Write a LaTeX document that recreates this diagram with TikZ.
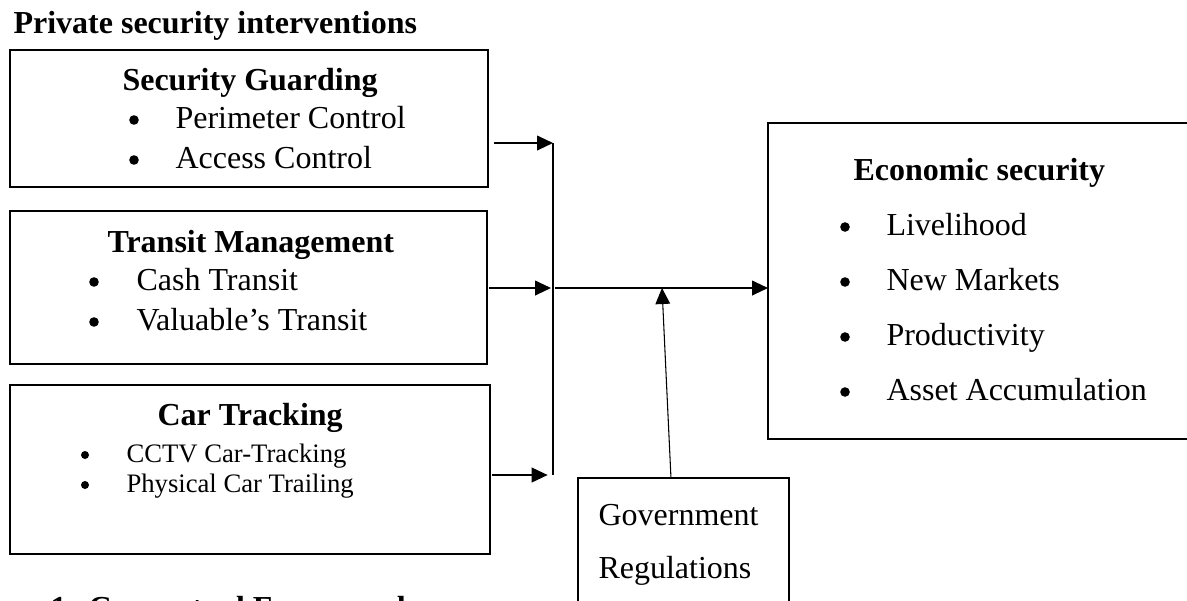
\documentclass[tikz,border=0pt,12pt]{standalone}
\usepackage{fontspec}
\setmainfont{Liberation Serif}
\usetikzlibrary{positioning,fit,calc,arrows.meta}

\begin{document}
\begin{tikzpicture}[
    x=0.375pt, y=-0.375pt,
    box/.style ={
        draw=black,
        line width=0.75pt,
        inner sep=0pt,
        outer sep=0pt
    },
    hd/.style ={font=\fontsize{12}{14}\selectfont\bfseries, anchor=base west, inner sep=0pt},
    it/.style ={font=\fontsize{12}{14}\selectfont, anchor=base west, inner sep=0pt},
    sm/.style ={font=\fontsize{10}{12}\selectfont, anchor=base west, inner sep=0pt},
    dot/.style ={circle, fill=black, inner sep=0pt, minimum size=3.6pt},
    sdot/.style ={circle, fill=black, inner sep=0pt, minimum size=3pt},
    flow/.style ={line width=0.75pt, -{Triangle[length=6pt, width=5.5pt]}}
    ]
    \useasboundingbox (0,0) rectangle (1187,600);
    \clip (0,0) rectangle (1187,600);

    \node[hd] (title) at (13,33) {Private security interventions};

    % interventions
    \node[box, fit={(10,50) (488,187)}] (sg) {};
    \node[hd] (sghd) at (122,90) {Security Guarding};
    \foreach \n/\y/\txt in {1/128/Perimeter Control, 2/168/Access Control} {
        \node[dot] (sgb\n) at (134,\y-8) {};
        \node[it] (sgi\n) at (175,\y) {\txt};
    }

    \node[box, fit={(10,211) (487,364)}] (tm) {};
    \node[hd] (tmhd) at (107,252) {Transit Management};
    \foreach \n/\y/\txt in {1/290/Cash Transit, 2/330/Valuable’s Transit} {
        \node[dot] (tmb\n) at (94,\y-8) {};
        \node[it] (tmi\n) at (136,\y) {\txt};
    }

    \node[box, fit={(10,385) (490,554)}] (ct) {};
    \node[hd] (cthd) at (157,425) {Car Tracking};
    \foreach \n/\y/\txt in {1/462/CCTV Car-Tracking, 2/492/Physical Car Trailing} {
        \node[sdot] (ctb\n) at (85,\y-7) {};
        \node[sm] (cti\n) at (126,\y) {\txt};
    }

    % outcome
    \node[box, fit={(768,123) (1195,439)}] (es) {};
    \node[hd] (eshd) at (853,180) {Economic security};
    \foreach \n/\y/\txt in {1/235/Livelihood, 2/290/New Markets, 3/345/Productivity, 4/400/Asset Accumulation} {
        \node[dot] (esb\n) at (845,\y-8) {};
        \node[it] (esi\n) at (886,\y) {\txt};
    }

    % moderator
    \node[box, fit={(578,478) (789,620)}] (gr) {};
    \node[it] (gr1) at (598,525) {Government};
    \node[it] (gr2) at (598,578) {Regulations};

    \node[hd] (capn) at (50,618) {1.};
    \node[hd] (capt) at (88,618) {Conceptual Framework};

    % connectors
    \coordinate (j1) at (553,143);
    \coordinate (j2) at (551,288);
    \coordinate (j3) at (553,475);
    \coordinate (j4) at (662,288);
    \draw[flow] ([xshift=2.3pt]sg.east |- j1) -- (j1);
    \draw[flow] ([xshift=0.8pt]tm.east |- j2) -- (j2);
    \draw[flow] ([xshift=0.8pt]ct.east |- j3) -- ([xshift=-2pt]j3);
    \draw[line width=0.75pt] (j1) -- (j3);
    \draw[flow] ([xshift=1.5pt]j2) -- (es.west |- j2);
    \draw[line width=0.4pt, -{Triangle[length=6pt, width=5.5pt]}] ([xshift=-4.7pt]gr.north) -- (j4);
\end{tikzpicture}
\end{document}
